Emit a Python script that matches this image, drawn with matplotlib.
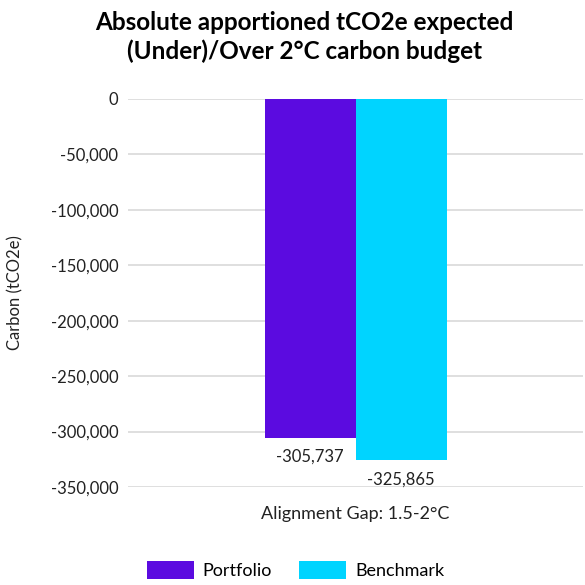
import matplotlib.pyplot as plt
from matplotlib.ticker import FuncFormatter

# Dados
categoria = ['Alignment Gap: 1.5-2°C']
series = ['Portfolio', 'Benchmark']
valores = [-305737, -325865]
cores = ['#5B0BE0', '#00D4FF']

plt.rcParams['font.family'] = ['Lato', 'DejaVu Sans']

fig = plt.figure(figsize=(5.85, 5.85), dpi=100)
ax = fig.add_axes([0.219, 0.1675, 0.778, 0.6635])

largura = 0.2
for i, (nome, v, c) in enumerate(zip(series, valores, cores)):
    x = (i - 0.5) * largura
    ax.bar(x, v, width=largura, color=c, label=nome, zorder=3)
    ax.annotate(f'{v:,.0f}', xy=(x, v), xytext=(0, -8), textcoords='offset points',
                ha='center', va='top', fontsize=12, color='#222222')

ax.set_xlim(-0.5, 0.5)
ax.set_ylim(-350000, 0)
ax.set_yticks(range(-350000, 1, 50000))
ax.yaxis.set_major_formatter(FuncFormatter(lambda v, p: f'{v:,.0f}'))
ax.set_xticks([0])
ax.set_xticklabels(categoria, fontsize=13, color='#222222')
ax.tick_params(axis='both', length=0, labelsize=12, colors='#222222')
ax.tick_params(axis='x', pad=14, labelsize=13)
ax.tick_params(axis='y', pad=7)
ax.grid(axis='y', color='#D9D9D9', linewidth=1.2, zorder=0)
for s in ax.spines.values():
    s.set_visible(False)

ax.set_ylabel('Carbon (tCO2e)', fontsize=12, color='#222222', labelpad=20)

fig.suptitle('Absolute apportioned tCO2e expected\n(Under)/Over 2°C carbon budget',
             x=0.52, y=0.982, fontsize=17.5, fontweight='bold', linespacing=1.3)

fig.legend(loc='lower center', bbox_to_anchor=(0.505, -0.018), ncol=2, frameon=False,
           fontsize=13, handlelength=2.6, handleheight=1.1, handletextpad=0.5,
           columnspacing=1.5)

fig.savefig('out.png', dpi=100)
